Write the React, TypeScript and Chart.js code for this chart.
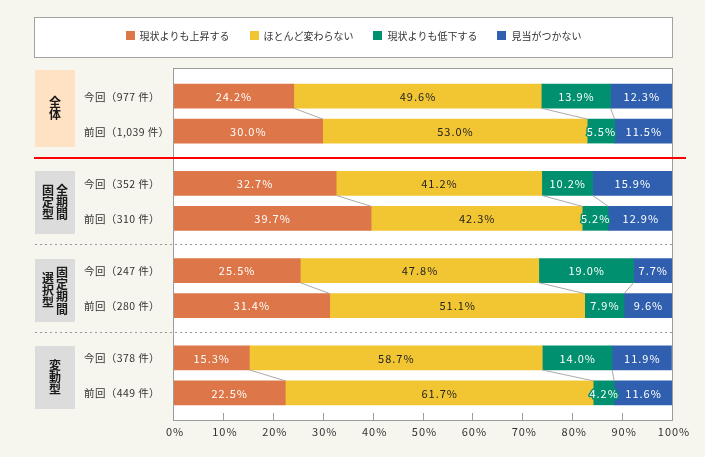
import React, { useEffect, useRef } from "react";
import { Chart, registerables } from "chart.js";

Chart.register(...registerables);

// ---- data ----
const seriesNames = ["現状よりも上昇する", "ほとんど変わらない", "現状よりも低下する", "見当がつかない"];
const rise = [24.2, 30.0, 32.7, 39.7, 25.5, 31.4, 15.3, 22.5];
const same = [49.6, 53.0, 41.2, 42.3, 47.8, 51.1, 58.7, 61.7];
const fall = [13.9, 5.5, 10.2, 5.2, 19.0, 7.9, 14.0, 4.2];
const unknown = [12.3, 11.5, 15.9, 12.9, 7.7, 9.6, 11.9, 11.6];
const rowLabels = [
  "今回（977 件）",
  "前回（1,039 件）",
  "今回（352 件）",
  "前回（310 件）",
  "今回（247 件）",
  "前回（280 件）",
  "今回（378 件）",
  "前回（449 件）",
];
// vertical group titles, columns listed right to left
const groupTitles: string[][] = [["全体"], ["全期間", "固定型"], ["固定期間", "選択型"], ["変動型"]];
const xTickStep = 10;

// ---- style ----
const W = 705;
const H = 457;
const FONT = '"Noto Sans CJK JP", "Noto Sans", sans-serif';
const CREAM = "#f6f5ee";
const COLORS = ["#dd7648", "#f2c633", "#00906f", "#2f5fae"];
const LABEL_COLORS = ["#ffffff", "#222222", "#ffffff", "#ffffff"];
const GROUP_BG = ["#ffe1c3", "#dcdcdc", "#dcdcdc", "#dcdcdc"];
const PLOT = { left: 173, right: 672, top: 68, bottom: 420 };

function buildSlots() {
  const labels: string[] = [];
  const rowSlot: number[] = [];
  groupTitles.forEach((_, g) => {
    labels.push("");
    rowSlot.push(labels.length);
    labels.push(rowLabels[g * 2]);
    labels.push("");
    rowSlot.push(labels.length);
    labels.push(rowLabels[g * 2 + 1]);
    labels.push("");
  });
  return { labels, rowSlot };
}

export default function App() {
  const ref = useRef<HTMLCanvasElement | null>(null);

  useEffect(() => {
    if (!ref.current) return;
    const { labels, rowSlot } = buildSlots();
    const series = [rise, same, fall, unknown];

    const decor = {
      id: "decor",
      beforeDraw(chart: any) {
        const ctx = chart.ctx as CanvasRenderingContext2D;
        const ys = chart.scales.y;
        ctx.save();
        (ctx as any).letterSpacing = "0px";
        ctx.fillStyle = CREAM;
        ctx.fillRect(0, 0, W, H);
        // legend box
        ctx.fillStyle = "#ffffff";
        ctx.fillRect(35, 18, 637, 39);
        ctx.strokeStyle = "#a3a3a3";
        ctx.lineWidth = 1;
        ctx.strokeRect(34.5, 17.5, 638, 40);
        ctx.font = `10px ${FONT}`;
        ctx.textBaseline = "middle";
        ctx.textAlign = "left";
        const widths = seriesNames.map((n) => ctx.measureText(n).width);
        const sq = 9, g1 = 5, g2 = 20;
        const total = widths.reduce((a, w) => a + sq + g1 + w, 0) + g2 * (widths.length - 1);
        let lx = (34.5 + 672.5) / 2 - total / 2;
        seriesNames.forEach((n, i) => {
          ctx.fillStyle = COLORS[i];
          ctx.fillRect(Math.round(lx), 31, sq, sq);
          ctx.fillStyle = "#333333";
          ctx.fillText(n, lx + sq + g1, 36);
          lx += sq + g1 + widths[i] + g2;
        });
        // plot background
        ctx.fillStyle = "#ffffff";
        ctx.fillRect(PLOT.left, PLOT.top, PLOT.right - PLOT.left, PLOT.bottom - PLOT.top);
        // group boxes and titles
        groupTitles.forEach((cols, g) => {
          const y1 = ys.getPixelForValue(rowSlot[g * 2]);
          const y2 = ys.getPixelForValue(rowSlot[g * 2 + 1]);
          const top = g === 0 ? PLOT.top + 2 : Math.round(y1 - 12);
          const bottom = Math.round(y2 + 16);
          ctx.fillStyle = GROUP_BG[g];
          ctx.fillRect(35, top, 40, bottom - top);
          const cy = (top + bottom) / 2;
          ctx.font = `bold 12px ${FONT}`;
          ctx.textAlign = "center";
          ctx.textBaseline = "middle";
          ctx.fillStyle = "#1a1a1a";
          const step = 12.3;
          cols.forEach((col, c) => {
            const cx = 55 + (cols.length - 1) * 7 - c * 14;
            const chars = Array.from(col);
            const start = cy - (chars.length * step) / 2 + step / 2;
            chars.forEach((ch, k) => ctx.fillText(ch, cx, start + k * step));
          });
        });
        // row labels
        (ctx as any).letterSpacing = "0.4px";
        ctx.font = `10.5px ${FONT}`;
        ctx.textAlign = "left";
        ctx.textBaseline = "middle";
        ctx.fillStyle = "#333333";
        rowLabels.forEach((t, r) => {
          ctx.fillText(t, 84, ys.getPixelForValue(rowSlot[r]) + 0.5);
        });
        ctx.restore();
        (ctx as any).letterSpacing = "1px";
      },
      afterDatasetsDraw(chart: any) {
        const ctx = chart.ctx as CanvasRenderingContext2D;
        const xs = chart.scales.x;
        const ys = chart.scales.y;
        ctx.save();
        // plot border
        ctx.strokeStyle = "#9c9c9c";
        ctx.lineWidth = 1;
        ctx.strokeRect(PLOT.left + 0.5, PLOT.top + 0.5, PLOT.right - PLOT.left, PLOT.bottom - PLOT.top);
        // inner tick marks
        ctx.beginPath();
        for (let v = 0; v <= 100; v += xTickStep) {
          const px = Math.round(xs.getPixelForValue(v)) + 0.5;
          ctx.moveTo(px, PLOT.bottom);
          ctx.lineTo(px, PLOT.bottom - 7);
        }
        ctx.stroke();
        // connector lines between 今回 and 前回
        ctx.strokeStyle = "#aaaaaa";
        ctx.lineWidth = 1;
        ctx.beginPath();
        for (let g = 0; g < groupTitles.length; g++) {
          const s1 = rowSlot[g * 2];
          const s2 = rowSlot[g * 2 + 1];
          for (let i = 0; i < series.length - 1; i++) {
            const meta = chart.getDatasetMeta(i);
            const a = meta.data[s1] as any;
            const b = meta.data[s2] as any;
            ctx.moveTo(a.x, a.y + a.height / 2);
            ctx.lineTo(b.x, b.y - b.height / 2);
          }
        }
        ctx.stroke();
        // value labels
        (ctx as any).letterSpacing = "1px";
        ctx.font = `11px ${FONT}`;
        ctx.textAlign = "center";
        ctx.textBaseline = "middle";
        ctx.lineJoin = "round";
        series.forEach((vals, i) => {
          const meta = chart.getDatasetMeta(i);
          rowSlot.forEach((s, r) => {
            const el = meta.data[s] as any;
            const cx = (el.x + el.base) / 2 + 0.5;
            const txt = vals[r].toFixed(1) + "%";
            ctx.strokeStyle = COLORS[i];
            ctx.lineWidth = 3;
            ctx.strokeText(txt, cx, el.y + 0.5);
            ctx.fillStyle = LABEL_COLORS[i];
            ctx.fillText(txt, cx, el.y + 0.5);
          });
        });
        // separators
        (ctx as any).letterSpacing = "0px";
        ctx.lineWidth = 1;
        for (let g = 0; g < groupTitles.length - 1; g++) {
          const yA = ys.getPixelForValue(rowSlot[g * 2 + 1]);
          const yB = ys.getPixelForValue(rowSlot[g * 2 + 2]);
          const y = (yA + yB) / 2;
          if (g === 0) {
            ctx.fillStyle = "#ff0000";
            ctx.fillRect(34, Math.round(y), 686 - 34, 2);
          } else {
            ctx.strokeStyle = "#999999";
            ctx.setLineDash([2, 3]);
            ctx.beginPath();
            ctx.moveTo(35, Math.round(y) + 0.5);
            ctx.lineTo(672, Math.round(y) + 0.5);
            ctx.stroke();
            ctx.setLineDash([]);
          }
        }
        ctx.restore();
        (ctx as any).letterSpacing = "1px";
      },
    };

    const chart = new Chart(ref.current, {
      type: "bar",
      data: {
        labels,
        datasets: series.map((vals, i) => ({
          label: seriesNames[i],
          data: labels.map((_, s) => {
            const r = rowSlot.indexOf(s);
            return r >= 0 ? vals[r] : null;
          }),
          backgroundColor: COLORS[i],
          borderWidth: 0,
          barThickness: 24,
        })),
      },
      options: {
        indexAxis: "y",
        responsive: false,
        animation: false,
        layout: { padding: { left: PLOT.left, right: W - PLOT.right, top: 70, bottom: 0 } },
        scales: {
          x: {
            stacked: true,
            min: 0,
            max: 100,
            grid: { display: false, drawTicks: false },
            border: { display: false },
            ticks: {
              stepSize: xTickStep,
              autoSkip: false,
              maxRotation: 0,
              padding: 6,
              labelOffset: 2,
              color: "#333333",
              font: { family: FONT, size: 11 },
              callback: (v: any) => v + "%",
            },
            afterFit: (s: any) => {
              s.height = 38;
            },
          },
          y: { stacked: true, display: false },
        },
        plugins: { legend: { display: false }, tooltip: { enabled: false } },
      } as any,
      plugins: [decor],
    });
    return () => chart.destroy();
  }, []);

  return (
    <div style={{ position: "fixed", left: 0, top: 0, width: W, height: H, background: CREAM }}>
      <canvas ref={ref} width={W} height={H} style={{ display: "block", width: W, height: H }} />
    </div>
  );
}
